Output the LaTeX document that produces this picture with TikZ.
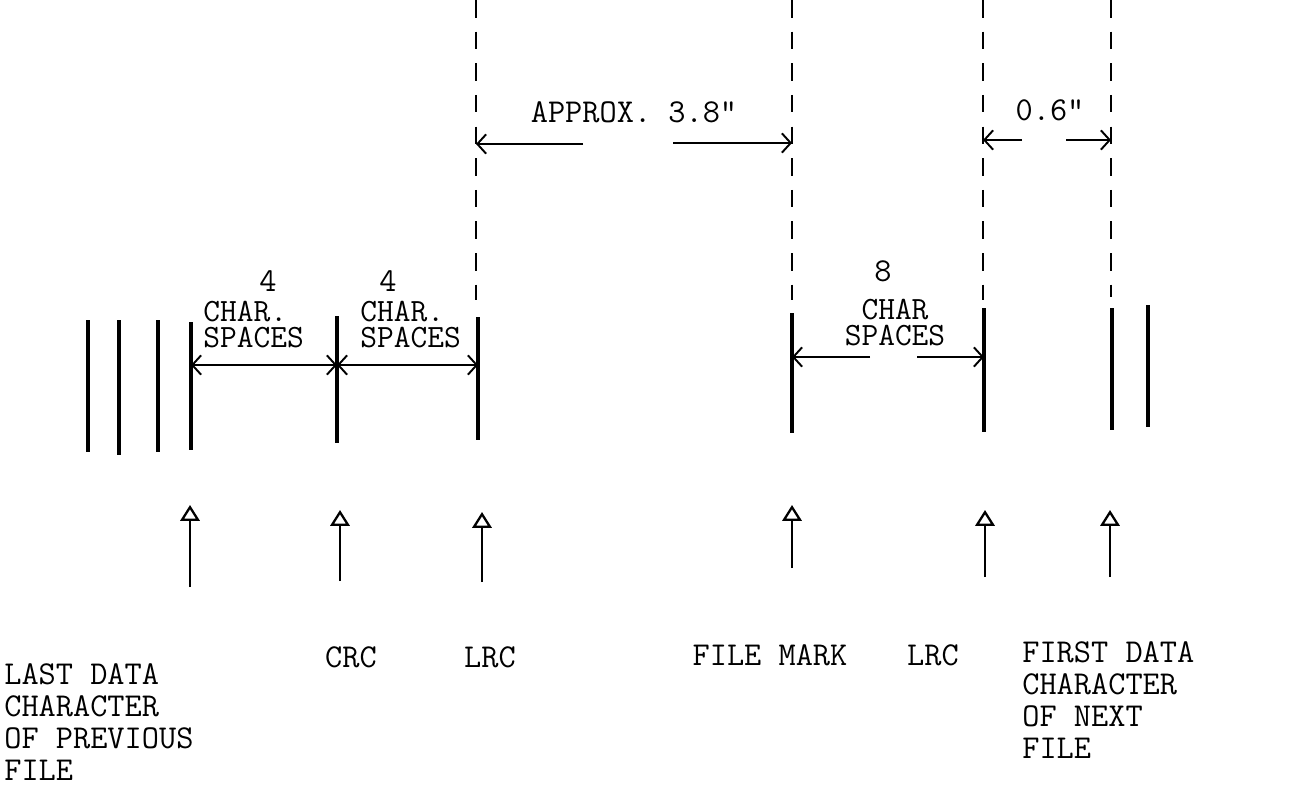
\documentclass[tikz,border=0pt]{standalone}
\usetikzlibrary{arrows.meta}

\def\bp#1#2{({0.02*(#1)},{-0.02*(#2)})}
\def\balken#1#2#3#4{
	\path \bp{#2}{#3} coordinate (#1o);
	\path \bp{#2}{#4} coordinate (#1u);
	\draw[balken] (#1o) -- (#1u);
}
\def\hilfslinie#1#2#3{
	\path \bp{#2}{0} coordinate (#1a);
	\path \bp{#2}{#3} coordinate (#1e);
	\draw[gestrichelt] (#1a) -- (#1e);
}
\def\zeiger#1#2#3#4{
	\path \bp{#2}{#3} coordinate (#1s);
	\path \bp{#2}{#4} coordinate (#1k);
	\draw[zeiger] (#1s) -- (#1k);
}

\tikzset{
	balken/.style={line width=1.8pt},
	gestrichelt/.style={line width=1.1pt, dash pattern=on 10pt off 8pt},
	mass/.style={line width=1.1pt, {Straight Barb[length=5pt,width=11pt]}-{Straight Barb[length=5pt,width=11pt]}},
	halbmass/.style={line width=1.1pt, -{Straight Barb[length=5pt,width=11pt]}},
	zeiger/.style={line width=1.3pt, -{Triangle[open,length=9pt,width=11pt]}},
	schrift/.style={inner sep=0pt, align=left},
	block/.style={inner sep=0pt, font=\ttfamily\fontsize{18.5}{14.8}\selectfont}
}

\begin{document}
\begin{tikzpicture}[font=\ttfamily\fontsize{19}{18.2}\selectfont]
\useasboundingbox \bp{0}{0} rectangle \bp{1312}{787};
% gestrichelte Hilfslinien
\hilfslinie{ha}{476}{300}
\hilfslinie{hb}{792}{300}
\hilfslinie{hc}{983}{300}
\hilfslinie{hd}{1111}{297}
% Zeichen auf dem Band
\balken{da}{88}{320}{452}
\balken{db}{119}{320}{455}
\balken{dc}{158}{320}{452}
\balken{dd}{191}{322}{450}
\balken{crc}{337}{316}{443}
\balken{lrca}{478}{317}{440}
\balken{fm}{792}{313}{433}
\balken{lrcb}{984}{308}{432}
\balken{fda}{1112}{308}{430}
\balken{fdb}{1148}{305}{427}
% Abstaende
\path \bp{191}{365} coordinate (m1);
\path \bp{337}{365} coordinate (m2);
\path \bp{478}{365} coordinate (m3);
\draw[mass] (m1) -- (m2);
\draw[mass] (m2) -- (m3);
\path \bp{792}{357} coordinate (m4);
\path \bp{870}{357} coordinate (m5);
\path \bp{917}{357} coordinate (m6);
\path \bp{984}{357} coordinate (m7);
\draw[halbmass] (m5) -- (m4);
\draw[halbmass] (m6) -- (m7);
\path \bp{476}{144} coordinate (m8);
\path \bp{583}{144} coordinate (m9);
\path \bp{673}{143} coordinate (m10);
\path \bp{792}{143} coordinate (m11);
\draw[halbmass] (m9) -- (m8);
\draw[halbmass] (m10) -- (m11);
\path \bp{983}{140} coordinate (m12);
\path \bp{1022}{140} coordinate (m13);
\path \bp{1066}{140} coordinate (m14);
\path \bp{1111}{140} coordinate (m15);
\draw[halbmass] (m13) -- (m12);
\draw[halbmass] (m14) -- (m15);
\node[schrift] (approx) at \bp{634}{112} {APPROX. 3.8"};
\node[schrift] (nullsechs) at \bp{1050}{110} {0.6"};
\node[schrift] (viera) at \bp{268}{281} {4};
\node[block, align=left, anchor=west] (spacesa) at \bp{203}{325} {CHAR.\\SPACES};
\node[schrift] (vierb) at \bp{388}{281} {4};
\node[block, align=left, anchor=west] (spacesb) at \bp{360}{325} {CHAR.\\SPACES};
\node[schrift] (acht) at \bp{883}{271} {8};
\node[block, align=center] (spacesc) at \bp{895}{323} {CHAR\\SPACES};
% Zeiger nach oben
\zeiger{za}{190}{587}{505}
\zeiger{zb}{340}{581}{510}
\zeiger{zc}{482}{582}{512}
\zeiger{zd}{792}{568}{505}
\zeiger{ze}{985}{577}{510}
\zeiger{zf}{1110}{577}{510}
% Beschriftung
\node[schrift] (tcrc) at \bp{351}{657} {CRC};
\node[schrift] (tlrca) at \bp{490}{657} {LRC};
\node[schrift] (tfm) at \bp{770}{655} {FILE MARK};
\node[schrift] (tlrcb) at \bp{933}{655} {LRC};
\node[schrift, anchor=west] (letztes) at \bp{4}{722} {LAST DATA\\CHARACTER\\OF PREVIOUS\\FILE};
\node[schrift, anchor=west] (erstes) at \bp{1022}{700} {FIRST DATA\\CHARACTER\\OF NEXT\\FILE};
\end{tikzpicture}
\end{document}
